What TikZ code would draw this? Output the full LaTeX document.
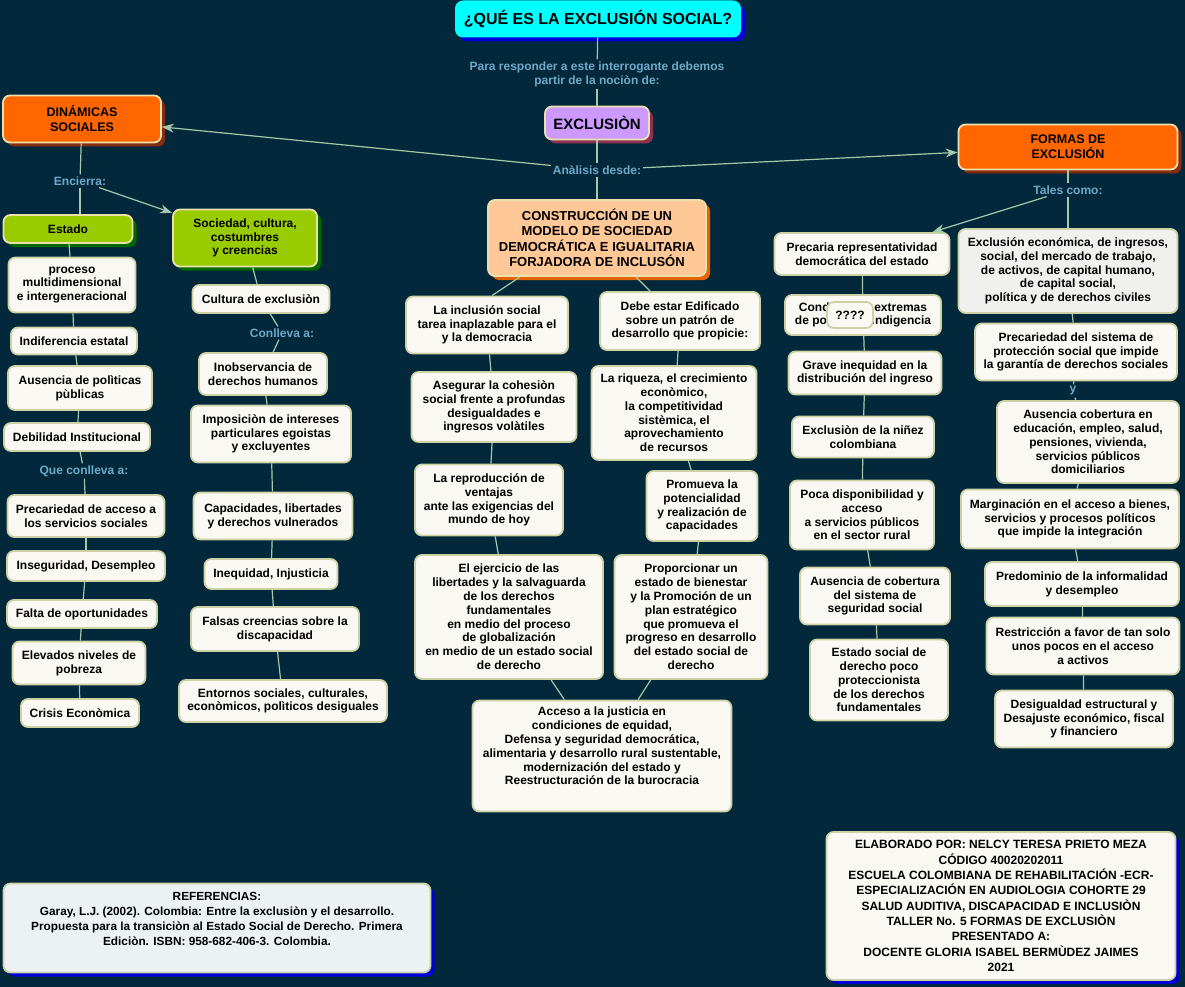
\documentclass[tikz,border=0pt]{standalone}
\usepackage{fontspec}
\setmainfont{Liberation Sans}
\setsansfont{Liberation Sans}
\usepackage{tikz}
\usetikzlibrary{arrows.meta,shadows}

\definecolor{bg}{RGB}{3,40,60}
\definecolor{linktxt}{RGB}{110,170,200}
\definecolor{conn}{RGB}{165,200,170}
\definecolor{wfill}{RGB}{250,248,243}
\definecolor{wedge}{RGB}{205,210,165}
\definecolor{orng}{RGB}{255,102,0}
\definecolor{orngsh}{RGB}{135,45,15}
\definecolor{grn}{RGB}{153,204,0}
\definecolor{grnsh}{RGB}{0,105,0}
\definecolor{cyn}{RGB}{0,255,255}
\definecolor{blush}{RGB}{0,0,215}
\definecolor{lila}{RGB}{204,153,255}
\definecolor{lilash}{RGB}{140,50,80}
\definecolor{peach}{RGB}{255,200,150}
\definecolor{peachsh}{RGB}{230,100,0}
\definecolor{cream}{RGB}{235,225,175}
\definecolor{grayfill}{RGB}{240,240,238}
\definecolor{reffill}{RGB}{236,242,244}

\begin{document}
\begin{tikzpicture}[x=1pt,y=-1pt,
    every node/.style={font=\sffamily\bfseries\fontsize{12}{13.8}\selectfont, align=center, inner sep=3pt},
    wbox/.style={draw=wedge, line width=1.8pt, fill=wfill, rounded corners=7pt},
    cbox/.style={draw=cream, line width=1.8pt, rounded corners=7pt},
    shad/.style={drop shadow={shadow xshift=4pt, shadow yshift=-4pt, fill=#1, opacity=1}},
    lbl/.style={text=linktxt, inner sep=2pt},
    con/.style={color=conn, draw, line width=1.2pt},
    arr/.style={con, -{Stealth[length=12pt,width=9pt]}}]

    \fill[bg] (0,0) rectangle (1185,987);
    \useasboundingbox (0,0) rectangle (1185,987);

    % pregunta central
    \node[shad=blush, fill=cyn, rounded corners=8pt, minimum width=286, minimum height=37,
          font=\sffamily\bfseries\fontsize{16}{18}\selectfont] (t) at (598,19) {¿QUÉ ES LA EXCLUSIÓN SOCIAL?};
    \node[lbl] (l1) at (597,74) {Para responder a este interrogante debemos\\partir de la nociòn de:};
    \node[cbox, fill=lila, shad=lilash, minimum width=104, minimum height=33,
          font=\sffamily\bfseries\fontsize{15}{17}\selectfont] (x) at (597,123) {EXCLUSIÒN};
    \node[lbl] (l2) at (597,170) {Anàlisis desde:};

    % dinamicas sociales: estado
    \node[cbox, fill=orng, shad=orngsh, minimum width=158, minimum height=47,
          font=\sffamily\bfseries\fontsize{12.5}{15}\selectfont] (dn) at (82,119) {DINÁMICAS\\SOCIALES};
    \node[lbl] (l3) at (80,181) {Encierra:};
    \node[cbox, fill=grn, shad=grnsh, minimum width=129, minimum height=28] (a1) at (68,229) {Estado};
    \node[wbox, minimum width=127, minimum height=55] (a2) at (72,285) {proceso\\multidimensional\\e intergeneracional};
    \node[wbox, minimum width=126, minimum height=27] (a3) at (74,341) {Indiferencia estatal};
    \node[wbox, minimum width=144, minimum height=44] (a4) at (80,388) {Ausencia de polìticas\\pùblicas};
    \node[wbox, minimum width=146, minimum height=28] (a5) at (77,437) {Debilidad Institucional};
    \node[lbl] (l4) at (84,471) {Que conlleva a:};
    \node[wbox, minimum width=157, minimum height=42] (a6) at (86,516) {Precariedad de acceso a\\los servicios sociales};
    \node[wbox, minimum width=158, minimum height=30] (a7) at (86,566) {Inseguridad, Desempleo};
    \node[wbox, minimum width=150, minimum height=28] (a8) at (82,614) {Falta de oportunidades};
    \node[wbox, minimum width=133, minimum height=43] (a9) at (79,663) {Elevados niveles de\\pobreza};
    \node[wbox, minimum width=118, minimum height=28] (a10) at (80,713) {Crisis Econòmica};

    % dinamicas sociales: sociedad
    \node[cbox, fill=grn, shad=grnsh, minimum width=144, minimum height=57] (b1) at (245,238) {Sociedad, cultura,\\costumbres\\y creencias};
    \node[wbox, minimum width=137, minimum height=28] (b2) at (261,299) {Cultura de exclusiòn};
    \node[lbl] (l5) at (282,333) {Conlleva a:};
    \node[wbox, minimum width=128, minimum height=42] (b3) at (263,374) {Inobservancia de\\derechos humanos};
    \node[wbox, minimum width=160, minimum height=57] (b4) at (271,434) {Imposiciòn de intereses\\particulares  egoistas\\y excluyentes};
    \node[wbox, minimum width=159, minimum height=47] (b5) at (273,516) {Capacidades, libertades\\y derechos vulnerados};
    \node[wbox, minimum width=133, minimum height=30] (b6) at (271,574) {Inequidad, Injusticia};
    \node[wbox, minimum width=168, minimum height=44] (b7) at (275,629) {Falsas creencias sobre la\\discapacidad};
    \node[wbox, minimum width=208, minimum height=42] (b8) at (283,701) {Entornos sociales, culturales,\\econòmicos, polìticos desiguales};

    % construccion de un modelo
    \node[cbox, fill=peach, shad=peachsh, minimum width=218, minimum height=76,
          font=\sffamily\bfseries\fontsize{13}{15.5}\selectfont] (c0) at (597,238) {CONSTRUCCIÓN DE UN\\MODELO DE SOCIEDAD\\DEMOCRÁTICA E IGUALITARIA\\FORJADORA DE INCLUSÓN};
    \node[wbox, minimum width=162, minimum height=57] (c1) at (487,325) {La inclusión social\\tarea  inaplazable para el\\y la democracia};
    \node[wbox, minimum width=160, minimum height=58] (c2) at (680,321) {Debe estar Edificado\\sobre un patrón de\\desarrollo que propicie:};
    \node[wbox, minimum width=165, minimum height=70] (c3) at (494,407) {Asegurar la cohesiòn\\social frente a profundas\\desigualdades e\\ingresos volàtiles};
    \node[wbox, minimum width=165, minimum height=94] (c4) at (674,413) {La riqueza, el crecimiento\\econòmico,\\la competitividad\\sistèmica, el\\aprovechamiento\\de recursos};
    \node[wbox, minimum width=148, minimum height=71] (c5) at (489,500) {La reproducción de\\ventajas\\ante las exigencias del\\mundo de hoy};
    \node[wbox, minimum width=111, minimum height=70] (c6) at (702,506) {Promueva la\\potencialidad\\y realización de\\capacidades};
    \node[wbox, minimum width=188, minimum height=124] (c7) at (509,617) {El ejercicio de las\\libertades  y la salvaguarda\\de  los derechos\\fundamentales\\en medio del proceso\\de globalización\\en medio de un estado social\\de derecho};
    \node[wbox, minimum width=153, minimum height=124] (c8) at (691,617) {Proporcionar un\\estado de bienestar\\y la Promoción de un\\plan estratégico\\que  promueva el\\progreso en desarrollo\\del estado social de\\derecho};
    \node[wbox, minimum width=259, minimum height=111] (c9) at (602,756) {Acceso a la justicia en\\condiciones de equidad,\\Defensa  y seguridad democrática,\\alimentaria y desarrollo rural sustentable,\\modernización del estado y\\Reestructuración de la burocracia\\[6pt]\mbox{}};

    % formas de exclusion
    \node[cbox, fill=orng, shad=orngsh, minimum width=219, minimum height=45,
          font=\sffamily\bfseries\fontsize{12.5}{15}\selectfont] (fx) at (1068,147) {FORMAS DE\\EXCLUSIÓN};
    \node[lbl] (l6) at (1068,190) {Tales como:};
    \node[wbox, minimum width=175, minimum height=42] (d1) at (862,254) {Precaria representatividad\\democrática del estado};
    \node[wbox, minimum width=156, minimum height=40] (d2) at (863,315) {Condiciones extremas\\de pobreza e indigencia};
    \node[wbox, minimum width=46, minimum height=26] (q) at (850,315) {????};
    \node[wbox, minimum width=153, minimum height=43] (d3) at (865,373) {Grave inequidad en la\\distribución del ingreso};
    \node[wbox, minimum width=142, minimum height=41] (d4) at (863,437) {Exclusiòn de la niñez\\colombiana};
    \node[wbox, minimum width=144, minimum height=69] (d5) at (862,515) {Poca disponibilidad y\\acceso\\a servicios públicos\\en el sector rural};
    \node[wbox, minimum width=150, minimum height=57] (d6) at (875,596) {Ausencia de cobertura\\del  sistema de\\seguridad social};
    \node[wbox, minimum width=138, minimum height=81] (d7) at (879,680) {Estado social de\\derecho poco\\proteccionista\\de los derechos\\fundamentales};

    \node[wbox, fill=grayfill, minimum width=219, minimum height=84] (e1) at (1068,271) {Exclusión económica, de ingresos,\\social,  del mercado de trabajo,\\de activos,  de capital humano,\\de capital social,\\política y de derechos civiles};
    \node[wbox, minimum width=202, minimum height=57] (e2) at (1076,352) {Precariedad del sistema de\\protección social que impide\\la garantía de derechos sociales};
    \node[lbl] (l7) at (1073,391) {y};
    \node[wbox, minimum width=182, minimum height=82] (e3) at (1088,442) {Ausencia cobertura en\\educación,  empleo,  salud,\\pensiones, vivienda,\\servicios públicos\\domiciliarios};
    \node[wbox, minimum width=218, minimum height=59] (e4) at (1070,519) {Marginación en el acceso a bienes,\\servicios y  procesos políticos\\que impide  la integración};
    \node[wbox, minimum width=194, minimum height=44] (e5) at (1082,584) {Predominio de la informalidad\\y desempleo};
    \node[wbox, minimum width=193, minimum height=57] (e6) at (1083,646) {Restricción a favor de tan solo\\unos pocos en el acceso\\a activos};
    \node[wbox, minimum width=178, minimum height=57] (e7) at (1084,719) {Desigualdad estructural y\\Desajuste económico, fiscal\\y financiero};

    % creditos
    \node[wbox, fill=reffill, shad=blush, minimum width=427, minimum height=89,
          font=\sffamily\bfseries\fontsize{11.8}{15}\selectfont] (ref) at (217,928) {REFERENCIAS:\\Garay, L.J. (2002). Colombia: Entre la exclusiòn y el desarrollo.\\Propuesta para la transiciòn al Estado Social de Derecho. Primera\\Ediciòn. ISBN: 958-682-406-3. Colombia.\\[4pt]\mbox{}};
    \node[wbox, shad=blush, minimum width=349, minimum height=148,
          font=\sffamily\bfseries\fontsize{12}{15.3}\selectfont] (el) at (1001,906) {ELABORADO POR: NELCY TERESA PRIETO MEZA\\CÓDIGO 40020202011\\ESCUELA COLOMBIANA DE REHABILITACIÓN -ECR-\\ESPECIALIZACIÓN EN AUDIOLOGIA COHORTE 29\\SALUD AUDITIVA, DISCAPACIDAD E INCLUSIÒN\\TALLER No. 5 FORMAS DE EXCLUSIÒN\\PRESENTADO A:\\DOCENTE GLORIA ISABEL BERMÙDEZ JAIMES\\2021};

    % enlaces
    \path[con]
    (t) edge (l1)   (l1) edge (x)   (x) edge (l2)   (l2) edge (c0)
    (dn) edge (l3)  (l3) edge (l3 |- a1.north)
    (a1) edge (a2)  (a2) edge (a3)  (a3) edge (a4)  (a4) edge (a5)
    (a5) edge (l4)  (l4) edge (a6)  (a6) edge (a7)  (a7) edge (a8)
    (a8) edge (a9)  (a9) edge (a10)
    (b1) edge (b2)  (b2) edge (l5)  (l5) edge (b3)  (b3) edge (b4)
    (b4) edge (b5)  (b5) edge (b6)  (b6) edge (b7)  (b7) edge (b8)
    ([xshift=-77]c0.south) edge ([xshift=5]c1.north)  (c0) edge (c2)
    (c1) edge (c3)  (c3) edge (c5)  (c5) edge (c7)  (c7) edge (c9)
    (c2) edge (c4)  (c4) edge (c6)  (c6) edge (c8)  (c8) edge (c9)
    (fx) edge (l6)  (l6) edge (e1)
    (d1) edge (d2)  (d2) edge (d3)  (d3) edge (d4)  (d4) edge (d5)
    (d5) edge (d6)  (d6) edge (d7)
    (e1) edge (e2)  (e2) edge (l7)  (l7) edge (e3)  (e3) edge (e4)
    (e4) edge (e5)  (e5) edge (e6)  (e6) edge (e7);
    \path[arr]
    (l2) edge (dn)  (l2) edge (fx)  (l3) edge (b1)  (l6) edge (d1);
\end{tikzpicture}
\end{document}
